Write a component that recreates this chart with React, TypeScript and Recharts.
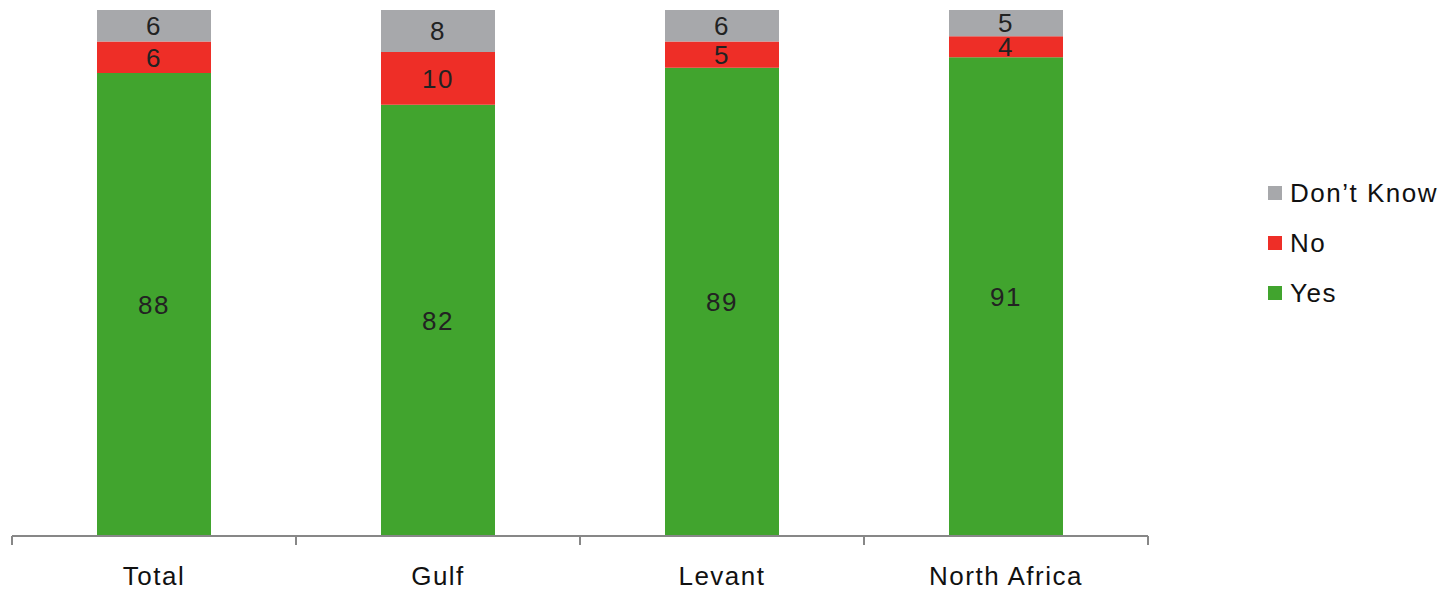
import { BarChart, Bar, XAxis, YAxis, Legend, LabelList } from 'recharts';

const regions = ['Total', 'Gulf', 'Levant', 'North Africa'];
const yesValues = [88, 82, 89, 91];
const noValues = [6, 10, 5, 4];
const dontKnowValues = [6, 8, 6, 5];

const FONT = '"Liberation Sans", Arial, sans-serif';

const data = regions.map((name, i) => ({
  name,
  yes: yesValues[i],
  no: noValues[i],
  dontKnow: dontKnowValues[i],
}));

// Category label plus a boundary tick on the left of each band (and right of the last)
const RegionTick = ({ x, y, payload, index }: any) => {
  const half = payload?.offset ?? 0;
  const axisY = y - 9;
  return (
    <g>
      <line x1={x - half} x2={x - half} y1={axisY} y2={axisY + 9} stroke="#878787" strokeWidth={2} />
      {index === regions.length - 1 && (
        <line x1={x + half} x2={x + half} y1={axisY} y2={axisY + 9} stroke="#878787" strokeWidth={2} />
      )}
      <text
        x={x}
        y={axisY + 40}
        textAnchor="middle"
        dominantBaseline="central"
        fontFamily={FONT}
        fontSize={26}
        letterSpacing={1.5}
        fill="#111"
      >
        {payload.value}
      </text>
    </g>
  );
};

// legend reads top-down: Don't Know, No, Yes
const legendOrder = ['Don’t Know', 'No', 'Yes'];

const renderLegend = ({ payload }: any) => {
  const items = [...(payload || [])].sort(
    (a: any, b: any) => legendOrder.indexOf(a.value) - legendOrder.indexOf(b.value)
  );
  return (
    <div style={{ fontFamily: FONT, fontSize: 26, letterSpacing: 1.5, color: '#111' }}>
      {items.map((item: any) => (
        <div key={item.value} style={{ height: 50, display: 'flex', alignItems: 'center' }}>
          <span style={{ width: 14, height: 14, background: item.color, display: 'inline-block', marginRight: 8 }} />
          <span>{item.value}</span>
        </div>
      ))}
    </div>
  );
};

const labelProps = {
  position: 'center' as const,
  fill: '#222',
  fontSize: 26,
  fontFamily: FONT,
  letterSpacing: 1.5,
};

export default function App() {
  return (
    <div style={{ position: 'absolute', left: 0, top: 0, width: 1441, height: 591, background: '#fff' }}>
      <BarChart
        width={1441}
        height={591}
        data={data}
        margin={{ top: 10, right: 293, bottom: 10, left: 12 }}
        barSize={114}
      >
        <XAxis
          dataKey="name"
          interval={0}
          height={45}
          tickSize={9}
          tickMargin={0}
          tickLine={false}
          axisLine={{ stroke: '#878787', strokeWidth: 2 }}
          tick={<RegionTick />}
        />
        <YAxis hide domain={[0, 100]} />
        <Legend
          layout="vertical"
          align="center"
          verticalAlign="middle"
          content={renderLegend}
          wrapperStyle={{ left: 1268, top: 168, width: 173 }}
        />
        <Bar dataKey="yes" name="Yes" stackId="a" fill="#41A42E" isAnimationActive={false}>
          <LabelList dataKey="yes" {...labelProps} />
        </Bar>
        <Bar dataKey="no" name="No" stackId="a" fill="#EE2E27" isAnimationActive={false}>
          <LabelList dataKey="no" {...labelProps} />
        </Bar>
        <Bar dataKey="dontKnow" name="Don’t Know" stackId="a" fill="#A7A8AB" isAnimationActive={false}>
          <LabelList dataKey="dontKnow" {...labelProps} />
        </Bar>
      </BarChart>
    </div>
  );
}
